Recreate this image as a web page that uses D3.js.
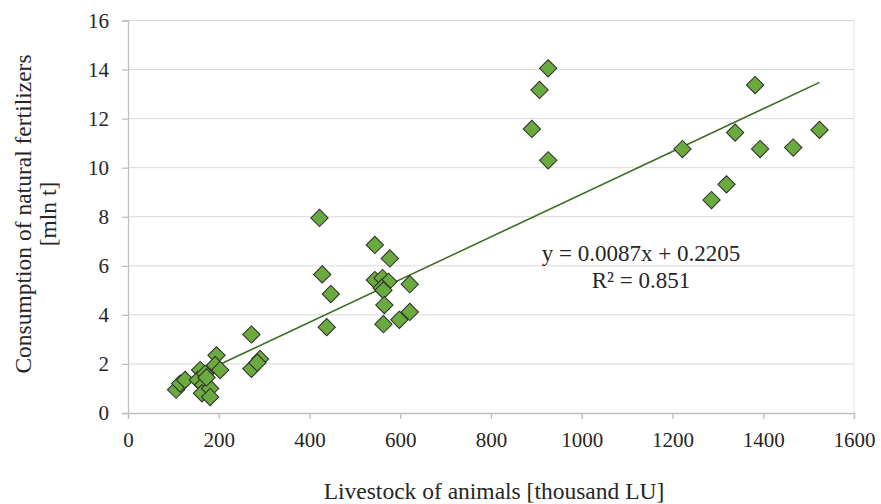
<!DOCTYPE html>
<html>
<head>
<meta charset="utf-8">
<script src="https://cdn.jsdelivr.net/npm/d3@7"></script>
<style>
  body { margin: 0; background: #fff; }
  svg text { font-family: "Liberation Serif", "Times New Roman", serif; fill: #262626; }
</style>
</head>
<body>
<div id="chart"></div>
<script>
// Livestock of animals [thousand LU]
const livestock = [106, 115, 126, 159, 154, 170, 195, 192, 203, 166, 163, 181, 181, 173, 272, 272, 291, 285,
  422, 544, 577, 428, 447, 438, 544, 561, 574, 559, 563, 621, 565, 563, 598, 621,
  926, 907, 890, 926, 1222, 1286, 1319, 1338, 1382, 1393, 1466, 1524];
// Consumption of natural fertilizers [mln t]
const fertilizers = [0.95, 1.2, 1.35, 1.75, 1.35, 1.6, 2.35, 1.95, 1.75, 1.15, 0.8, 1.0, 0.65, 1.45, 3.2, 1.8, 2.2, 2.05,
  7.95, 6.85, 6.3, 5.65, 4.85, 3.5, 5.42, 5.5, 5.35, 5.1, 5.0, 5.25, 4.4, 3.62, 3.8, 4.12,
  14.05, 13.17, 11.58, 10.3, 10.76, 8.68, 9.32, 11.43, 13.37, 10.76, 10.82, 11.54];

const xTicks = [0, 200, 400, 600, 800, 1000, 1200, 1400, 1600];
const yTicks = [0, 2, 4, 6, 8, 10, 12, 14, 16];
const trendSlope = 0.0087;
const trendIntercept = 0.2205;
const trendLabels = ["y = 0.0087x + 0.2205", "R\u00b2 = 0.851"];

const width = 881;
const height = 504;
const margin = { top: 20.5, right: 27, bottom: 91, left: 128 };
const serif = '"Liberation Serif", "Times New Roman", serif';

const svg = d3.select("#chart")
  .append("svg")
  .attr("width", width)
  .attr("height", height);

const x = d3.scaleLinear().domain([0, 1600]).range([margin.left, width - margin.right]);
const y = d3.scaleLinear().domain([0, 16]).range([height - margin.bottom, margin.top]);

// Horizontal gridlines
svg.append("g")
  .selectAll("line")
  .data(yTicks.slice(1))
  .join("line")
  .attr("x1", x(0))
  .attr("x2", x(1600))
  .attr("y1", d => y(d))
  .attr("y2", d => y(d))
  .attr("stroke", "#d9d9d9")
  .attr("stroke-width", 1);

// faint right border
svg.append("line")
  .attr("x1", x(1600)).attr("x2", x(1600))
  .attr("y1", y(0)).attr("y2", y(16))
  .attr("stroke", "#e4e4e4");

// Axes
const xAxis = svg.append("g")
  .attr("transform", `translate(0,${y(0)})`)
  .call(d3.axisBottom(x).tickValues(xTicks).tickSize(6).tickPadding(13).tickFormat(d3.format("d")));
const yAxis = svg.append("g")
  .attr("transform", `translate(${x(0)},0)`)
  .call(d3.axisLeft(y).tickValues(yTicks).tickSize(6).tickPadding(13).tickFormat(d3.format("d")));

[xAxis, yAxis].forEach(a => {
  a.attr("font-family", serif).attr("font-size", 21);
  a.select(".domain").attr("stroke", "#bfbfbf").attr("stroke-width", 1.3);
  a.selectAll(".tick line").attr("stroke", "#bfbfbf").attr("stroke-width", 1.3);
  a.selectAll(".tick text")
    .style("font-family", serif)
    .style("font-size", "21px")
    .attr("fill", "#262626");
});

// Trend line across the data range
const xExtent = d3.extent(livestock);
svg.append("line")
  .attr("x1", x(xExtent[0]))
  .attr("y1", y(trendSlope * xExtent[0] + trendIntercept))
  .attr("x2", x(xExtent[1]))
  .attr("y2", y(trendSlope * xExtent[1] + trendIntercept))
  .attr("stroke", "#3a6b1f")
  .attr("stroke-width", 1.5);

// Diamond markers
const diamond = d3.symbol(d3.symbolSquare, 150);
svg.append("g")
  .selectAll("path")
  .data(livestock.map((v, i) => ({ x: v, y: fertilizers[i] })))
  .join("path")
  .attr("d", diamond)
  .attr("transform", d => `translate(${x(d.x)},${y(d.y)}) rotate(45)`)
  .attr("fill", "#6aaa3e")
  .attr("stroke", "#2b2b2b")
  .attr("stroke-width", 1);

// Trend equation
svg.append("g")
  .selectAll("text")
  .data(trendLabels)
  .join("text")
  .attr("x", 641)
  .attr("y", (d, i) => 261 + i * 27)
  .attr("text-anchor", "middle")
  .style("font-size", "23px")
  .text(d => d);

// Axis titles
svg.append("text")
  .attr("x", 494)
  .attr("y", 499)
  .attr("text-anchor", "middle")
  .style("font-size", "23.5px")
  .text("Livestock of animals [thousand LU]");

const yTitle = svg.append("text")
  .attr("transform", `translate(31,214) rotate(-90)`)
  .attr("text-anchor", "middle")
  .style("font-size", "23.5px");
yTitle.append("tspan").attr("x", 0).attr("dy", 0).text("Consumption of natural fertilizers");
yTitle.append("tspan").attr("x", 0).attr("dy", 25).text("[mln t]");
</script>
</body>
</html>
